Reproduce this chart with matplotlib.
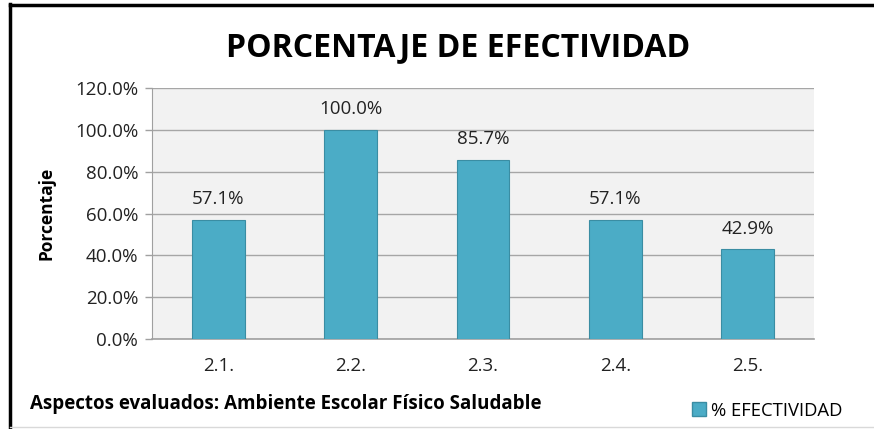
import matplotlib.pyplot as plt
from matplotlib.lines import Line2D
from matplotlib.patches import Patch

plt.rcParams['font.family'] = ['Open Sans', 'DejaVu Sans']

# Data
aspectos = ["2.1.", "2.2.", "2.3.", "2.4.", "2.5."]
efectividad = [57.1, 100.0, 85.7, 57.1, 42.9]
y_ticks = [0, 20, 40, 60, 80, 100, 120]

bar_color = "#4BACC6"
edge_color = "#3A8DA3"

fig = plt.figure(figsize=(8.74, 4.29), dpi=100)
ax = fig.add_axes([0.1739, 0.2098, 0.7575, 0.585])
ax.set_facecolor("#F2F2F2")

x = range(len(aspectos))
bars = ax.bar(x, efectividad, width=0.4, color=bar_color, edgecolor=edge_color,
              linewidth=0.8, zorder=3)

for xi, v in zip(x, efectividad):
    ax.text(xi, v + 5.5, f"{v:.1f}%", ha="center", va="bottom",
            fontsize=13.5, color="#222222")

ax.set_xlim(-0.5, len(aspectos) - 0.5)
ax.set_ylim(0, 120)
ax.set_yticks(y_ticks)
ax.set_yticklabels([f"{t:.1f}%" for t in y_ticks], fontsize=13.5, color="#222222")
ax.set_xticks(list(x))
ax.set_xticklabels(aspectos, fontsize=13.5, color="#222222")
ax.tick_params(axis="x", length=0, pad=13)
ax.tick_params(axis="y", length=5, color="#A0A0A0", width=1, pad=5)
ax.grid(axis="y", color="#A6A6A6", linewidth=1, zorder=0)
for side in ["top", "right"]:
    ax.spines[side].set_visible(False)
ax.spines["left"].set_color("#A0A0A0")
ax.spines["bottom"].set_color("#A0A0A0")
ax.spines["bottom"].set_linewidth(1.2)

ax.set_ylabel("Porcentaje", fontsize=12.5, fontweight="bold", labelpad=14)

fig.text(0.524, 0.89, "PORCENTAJE DE EFECTIVIDAD", ha="center", va="center",
         fontsize=23, fontweight="bold", color="black")
fig.text(0.034, 0.058, "Aspectos evaluados: Ambiente Escolar Físico Saludable",
         ha="left", va="center", fontsize=13.5, fontweight="bold", color="black")

handles = [Patch(facecolor=bar_color, edgecolor=edge_color, label="% EFECTIVIDAD")]
fig.legend(handles=handles, loc="center", bbox_to_anchor=(0.878, 0.043), frameon=False,
           fontsize=13.3, handlelength=0.75, handleheight=0.75, handletextpad=0.25)

# Frame around chart
fig.add_artist(Line2D([0.012, 0.012], [0, 0.99], color="black", linewidth=2.5))
fig.add_artist(Line2D([0.011, 1.0], [0.989, 0.989], color="black", linewidth=2.5))
fig.add_artist(Line2D([0.012, 1.0], [0.004, 0.004], color="#D9D9D9", linewidth=1))

fig.savefig("out.png", dpi=100)
